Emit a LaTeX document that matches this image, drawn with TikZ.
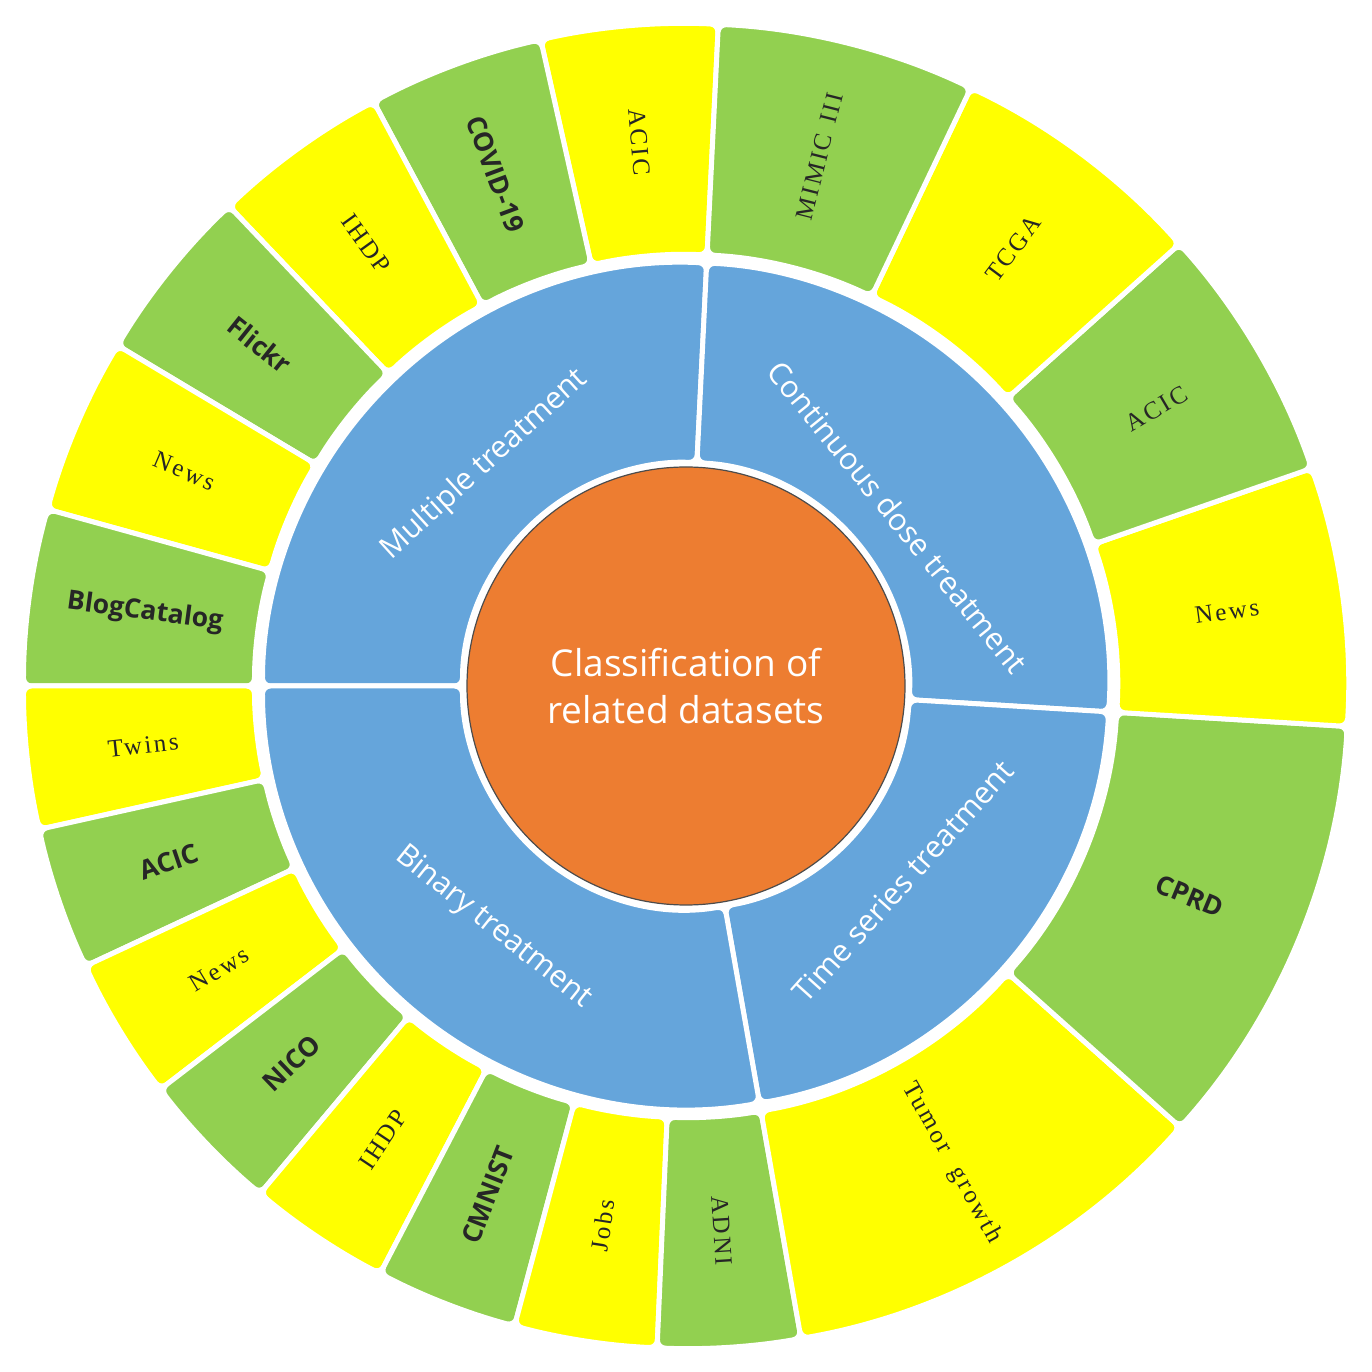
\documentclass[tikz,border=0pt]{standalone}
\usepackage{fontspec}
\setmainfont{Open Sans}
\newfontfamily\serifset[LetterSpace=10]{Liberation Serif}
\usepackage{tikz}
\definecolor{coreorange}{HTML}{ED7D31}
\definecolor{ringblue}{HTML}{65A5DB}
\definecolor{leafgreen}{HTML}{92D050}
\definecolor{leafyellow}{HTML}{FFFF00}
\definecolor{labeldark}{HTML}{262626}
\newcommand{\dsbold}{\fontsize{26.5}{30}\selectfont\bfseries}
\newcommand{\dsser}{\serifset\fontsize{25}{28}\selectfont}
\tikzset{
  seg/.style={fill=#1,draw=white,line width=5pt,rounded corners=8pt},
  core/.style={circle,fill=coreorange,draw=black!70,line width=1.2pt,
    minimum size=438pt,inner sep=0pt,text=white,align=center,
    font=\fontsize{37}{47}\selectfont},
  grp/.style={text=white,font=\fontsize{30.5}{36}\selectfont,inner sep=0pt},
  leaf/.style={text=labeldark,inner sep=0pt},
}

\begin{document}
\begin{tikzpicture}[x=1pt,y=1pt]
  \useasboundingbox (-686,-686) rectangle (686,686);
  % inner ring: treatment types
  \foreach \a/\b/\txt/\ang/\r/\rot [count=\i] in {
      87.2/180/Multiple treatment/132.3/299/42.3,
      -3.5/87.2/Continuous dose treatment/38.6/271/-51,
      -80/-3.5/Time series treatment/-42/292/48,
      180/280/Binary treatment/231.4/309/-38.6}{
    \path[seg=ringblue] (\a:423.5) arc[start angle=\a,end angle=\b,radius=423.5]
      -- (\b:223.5) arc[start angle=\b,end angle=\a,radius=223.5] -- cycle;
    \node[grp,rotate=\rot] (grp\i) at (\ang:\r) {\txt};
  }
  % outer ring: datasets
  \foreach \a/\b/\col/\txt/\fnt [count=\i] in {
      87.2/102.67/leafyellow/ACIC/\dsser,
      102.67/118.13/leafgreen/COVID-19/\dsbold,
      118.13/133.6/leafyellow/IHDP/\dsser,
      133.6/149.07/leafgreen/Flickr/\dsbold,
      149.07/164.53/leafyellow/News/\dsser,
      164.53/180/leafgreen/BlogCatalog/\dsbold,
      180/192.5/leafyellow/Twins/\dsser,
      192.5/205/leafgreen/ACIC/\dsbold,
      205/217.5/leafyellow/News/\dsser,
      217.5/230/leafgreen/NICO/\dsbold,
      230/242.5/leafyellow/IHDP/\dsser,
      242.5/255/leafgreen/CMNIST/\dsbold,
      255/267.5/leafyellow/Jobs/\dsser,
      267.5/280/leafgreen/ADNI/\dsser,
      -80/-41.75/leafyellow/Tumor\hspace{20pt}growth/\dsser,
      -41.75/-3.5/leafgreen/CPRD/\dsbold,
      -3.5/19.18/leafyellow/News/\dsser,
      19.18/41.85/leafgreen/ACIC/\dsser,
      41.85/64.53/leafyellow/TCGA/\dsser,
      64.53/87.2/leafgreen/MIMIC\hspace{12pt}III/\dsser}{
    \pgfmathsetmacro\mid{(\a+\b)/2}
    \pgfmathsetmacro\rot{(\mid>90 && \mid<270) ? \mid-180 : \mid}
    \path[seg=\col] (\a:662.5) arc[start angle=\a,end angle=\b,radius=662.5]
      -- (\b:431.5) arc[start angle=\b,end angle=\a,radius=431.5] -- cycle;
    \node[leaf,font=\fnt,rotate=\rot] (leaf\i) at (\mid:546) {\txt};
  }
  \node[core] (hub) at (0,0) {Classification of\\related datasets};
\end{tikzpicture}
\end{document}
